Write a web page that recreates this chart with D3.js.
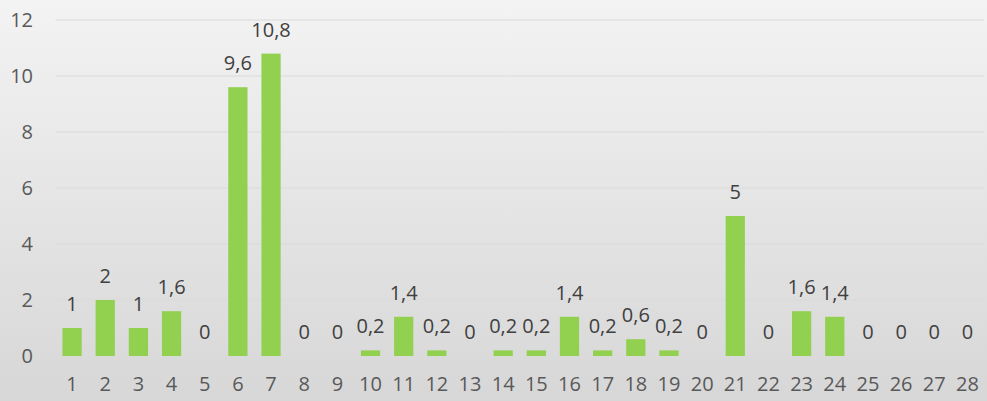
<!DOCTYPE html>
<html>
<head>
<meta charset="utf-8">
<script src="https://cdn.jsdelivr.net/npm/d3@7"></script>
<style>
  html, body { margin: 0; padding: 0; }
  body { width: 987px; height: 401px; overflow: hidden; }
  text { font-family: "Open Sans", "Noto Sans", sans-serif; }
</style>
</head>
<body>
<svg id="chart" width="987" height="401"></svg>
<script>
// Daily values for days 1–28
const categories = d3.range(1, 29).map(String);
const values = [1, 2, 1, 1.6, 0, 9.6, 10.8, 0, 0, 0.2, 1.4, 0.2, 0, 0.2, 0.2, 1.4, 0.2, 0.6, 0.2, 0, 5, 0, 1.6, 1.4, 0, 0, 0, 0];
const yTicks = [0, 2, 4, 6, 8, 10, 12];

const width = 987, height = 401;
const margin = { top: 20, right: 3, bottom: 45, left: 55.5 };
const fontSize = 20;

const svg = d3.select("#chart");

// Soft vertical background gradient
const defs = svg.append("defs");
const grad = defs.append("linearGradient")
  .attr("id", "bg").attr("x1", 0).attr("y1", 0).attr("x2", 0).attr("y2", 1);
grad.append("stop").attr("offset", "0%").attr("stop-color", "#f3f3f3");
grad.append("stop").attr("offset", "100%").attr("stop-color", "#d7d7d7");
svg.append("rect").attr("width", width).attr("height", height).attr("fill", "url(#bg)");

const x = d3.scaleBand()
  .domain(categories)
  .range([margin.left, width - margin.right])
  .paddingInner(0.42)
  .paddingOuter(0.21);

const y = d3.scaleLinear()
  .domain([0, 12])
  .range([height - margin.bottom, margin.top]);

// Horizontal gridlines
svg.append("g")
  .selectAll("line")
  .data(yTicks)
  .join("line")
  .attr("x1", margin.left)
  .attr("x2", width - margin.right)
  .attr("y1", d => y(d))
  .attr("y2", d => y(d))
  .attr("stroke", "#d9d9d9")
  .attr("stroke-width", 1.2);

// Y axis labels
const yAxis = d3.axisLeft(y).tickValues(yTicks).tickSize(0).tickPadding(0);
const gy = svg.append("g")
  .attr("transform", `translate(33,0)`)
  .call(yAxis);
gy.select(".domain").remove();
gy.selectAll("text")
  .attr("font-size", fontSize)
  .attr("font-family", '"Open Sans", "Noto Sans", sans-serif')
  .attr("fill", "#595959");

// X axis labels
const xAxis = d3.axisBottom(x).tickSize(0).tickPadding(0);
const gx = svg.append("g")
  .attr("transform", `translate(0,${y(0) + 21})`)
  .call(xAxis);
gx.select(".domain").remove();
gx.selectAll("text")
  .attr("font-size", fontSize)
  .attr("font-family", '"Open Sans", "Noto Sans", sans-serif')
  .attr("fill", "#595959");

// Bars
svg.append("g")
  .selectAll("rect")
  .data(values)
  .join("rect")
  .attr("x", (d, i) => x(categories[i]))
  .attr("width", x.bandwidth())
  .attr("y", d => y(d))
  .attr("height", d => y(0) - y(d))
  .attr("fill", "#92d050");

// Value labels with decimal comma
const fmt = v => String(v).replace(".", ",");
svg.append("g")
  .selectAll("text")
  .data(values)
  .join("text")
  .attr("x", (d, i) => x(categories[i]) + x.bandwidth() / 2)
  .attr("y", d => y(d) - 17)
  .attr("text-anchor", "middle")
  .attr("font-size", fontSize)
  .attr("fill", "#404040")
  .text(fmt);
</script>
</body>
</html>
